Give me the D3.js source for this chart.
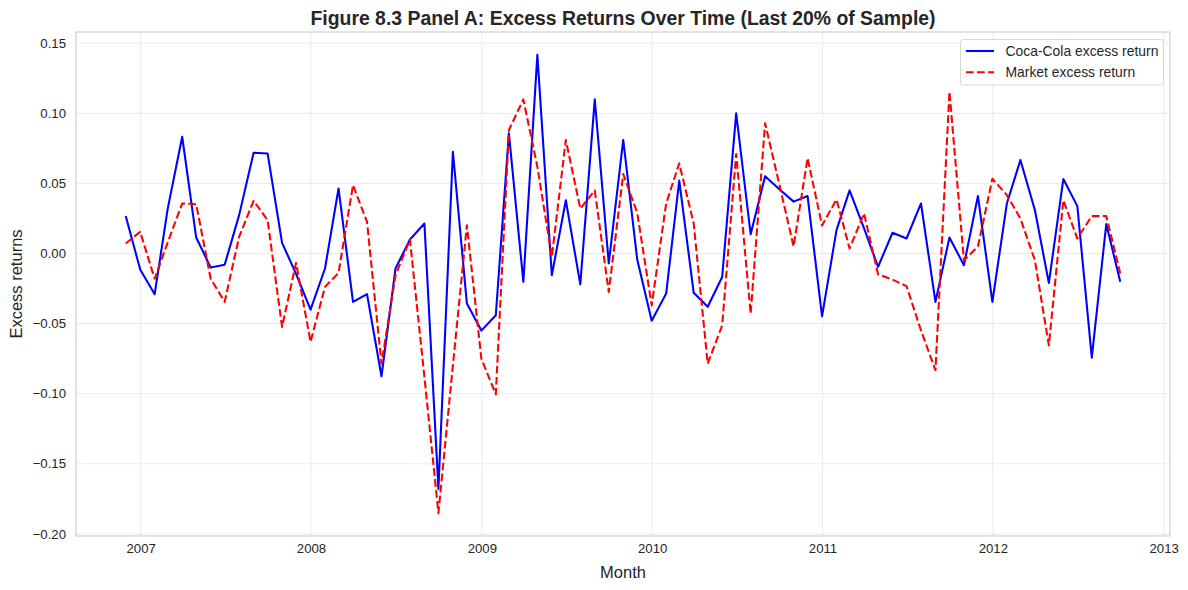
<!DOCTYPE html>
<html>
<head>
<meta charset="utf-8">
<script src="https://cdn.jsdelivr.net/npm/d3@7"></script>
<style>
  html, body { margin: 0; padding: 0; background: #fff; }
  svg { display: block; font-family: "Liberation Sans", Arial, sans-serif; }
</style>
</head>
<body>
<svg id="chart" width="1188" height="590"></svg>
<script>
// ---------- data ----------
const months = [
  "2006-11-30","2006-12-31",
  "2007-01-31","2007-02-28","2007-03-31","2007-04-30","2007-05-31","2007-06-30",
  "2007-07-31","2007-08-31","2007-09-30","2007-10-31","2007-11-30","2007-12-31",
  "2008-01-31","2008-02-29","2008-03-31","2008-04-30","2008-05-31","2008-06-30",
  "2008-07-31","2008-08-31","2008-09-30","2008-10-31","2008-11-30","2008-12-31",
  "2009-01-31","2009-02-28","2009-03-31","2009-04-30","2009-05-31","2009-06-30",
  "2009-07-31","2009-08-31","2009-09-30","2009-10-31","2009-11-30","2009-12-31",
  "2010-01-31","2010-02-28","2010-03-31","2010-04-30","2010-05-31","2010-06-30",
  "2010-07-31","2010-08-31","2010-09-30","2010-10-31","2010-11-30","2010-12-31",
  "2011-01-31","2011-02-28","2011-03-31","2011-04-30","2011-05-31","2011-06-30",
  "2011-07-31","2011-08-31","2011-09-30","2011-10-31","2011-11-30","2011-12-31",
  "2012-01-31","2012-02-29","2012-03-31","2012-04-30","2012-05-31","2012-06-30",
  "2012-07-31","2012-08-31","2012-09-30"
];

const cocaColaExcess = [
  0.0267, -0.0114,
  -0.029, 0.032, 0.0833, 0.0114, -0.010, -0.008, 0.0274, 0.0719, 0.0714, 0.0076, -0.0145, -0.040,
  -0.0107, 0.0464, -0.0345, -0.029, -0.0876, -0.0107, 0.010, 0.0214, -0.1679, 0.0726, -0.0357, -0.055,
  -0.044, 0.0857, -0.0202, 0.1417, -0.0155, 0.038, -0.022, 0.110, -0.007, 0.081, -0.0043, -0.048,
  -0.0286, 0.052, -0.028, -0.038, -0.0167, 0.100, 0.0138, 0.0552, 0.046, 0.037, 0.041, -0.0448,
  0.0167, 0.045, 0.018, -0.0095, 0.0148, 0.0107, 0.0357, -0.0345, 0.0114, -0.0083, 0.041, -0.0345,
  0.0357, 0.0667, 0.031, -0.021, 0.0531, 0.0338, -0.0743, 0.021, -0.0202
];

const marketExcess = [
  0.0071, 0.0155,
  -0.018, 0.008, 0.0357, 0.0352, -0.018, -0.0345, 0.0119, 0.0376, 0.0238, -0.0524, -0.0067, -0.063,
  -0.0238, -0.0138, 0.0488, 0.0226, -0.0786, -0.0155, 0.010, -0.088, -0.1852, -0.080, 0.0202, -0.075,
  -0.1005, 0.088, 0.110, 0.062, -0.0024, 0.081, 0.032, 0.045, -0.0274, 0.0567, 0.029, -0.037,
  0.0357, 0.0643, 0.0214, -0.0786, -0.0512, 0.071, -0.0429, 0.0929, 0.050, 0.005, 0.068, 0.020,
  0.0386, 0.0036, 0.0286, -0.0148, -0.0186, -0.0233, -0.0548, -0.0833, 0.1155, -0.0048, 0.005, 0.0533,
  0.0417, 0.025, -0.0048, -0.0655, 0.038, 0.0107, 0.0267, 0.0267, -0.0143
];

const yTicks = [-0.20, -0.15, -0.10, -0.05, 0.00, 0.05, 0.10, 0.15];
const xTickYears = ["2007", "2008", "2009", "2010", "2011", "2012", "2013"];

const seriesNames = ["Coca-Cola excess return", "Market excess return"];
const titleText = "Figure 8.3 Panel A: Excess Returns Over Time (Last 20% of Sample)";
const xLabelText = "Month";
const yLabelText = "Excess returns";

// ---------- layout ----------
const W = 1188, H = 590;
const plot = { left: 76, right: 1170, top: 32, bottom: 536 };
const textColor = "#262626";
const FONT = '"Liberation Sans", Arial, sans-serif';

const parse = d3.utcParse("%Y-%m-%d");
const dates = months.map(parse);

const data = dates.map((d, i) => ({ date: d, ko: cocaColaExcess[i], mkt: marketExcess[i] }));

// domains with matplotlib-like 5% margins
const xExt = d3.extent(dates);
const xPad = (xExt[1] - xExt[0]) * 0.05;
const allY = cocaColaExcess.concat(marketExcess);
const yExt = d3.extent(allY);
const yPad = (yExt[1] - yExt[0]) * 0.05;

const x = d3.scaleUtc()
  .domain([new Date(+xExt[0] - xPad), new Date(+xExt[1] + xPad)])
  .range([plot.left, plot.right]);
const y = d3.scaleLinear()
  .domain([yExt[0] - yPad, yExt[1] + yPad])
  .range([plot.bottom, plot.top]);

const svg = d3.select("#chart");

svg.append("rect").attr("x", 0).attr("y", 0).attr("width", W).attr("height", H).attr("fill", "#fff");

// grid
const xTickDates = xTickYears.map(s => parse(s + "-01-01"));
const grid = svg.append("g");
grid.selectAll("line.gx").data(xTickDates).join("line")
  .attr("x1", d => x(d)).attr("x2", d => x(d))
  .attr("y1", plot.top).attr("y2", plot.bottom)
  .attr("stroke", "#ebebeb").attr("stroke-width", 1);
grid.selectAll("line.gy").data(yTicks).join("line")
  .attr("x1", plot.left).attr("x2", plot.right)
  .attr("y1", d => y(d)).attr("y2", d => y(d))
  .attr("stroke", "#ebebeb").attr("stroke-width", 1);

// axes (labels only, no tick marks)
const fmtY = d3.format(".2f");
const yAxis = d3.axisLeft(y).tickValues(yTicks).tickFormat(fmtY).tickSize(0).tickPadding(10);
const xAxis = d3.axisBottom(x).tickValues(xTickDates).tickFormat(d3.utcFormat("%Y")).tickSize(0).tickPadding(8);

const gy = svg.append("g").attr("transform", `translate(${plot.left},0)`).call(yAxis);
const gx = svg.append("g").attr("transform", `translate(0,${plot.bottom})`).call(xAxis);
[gx, gy].forEach(g => {
  g.select(".domain").remove();
  g.selectAll("text").attr("fill", textColor).style("font-size", "13.2px").style("font-family", FONT);
});

// lines
svg.append("clipPath").attr("id", "clip").append("rect")
  .attr("x", plot.left).attr("y", plot.top)
  .attr("width", plot.right - plot.left).attr("height", plot.bottom - plot.top);

const lineKo = d3.line().x(d => x(d.date)).y(d => y(d.ko));
const lineMkt = d3.line().x(d => x(d.date)).y(d => y(d.mkt));

const lines = svg.append("g").attr("clip-path", "url(#clip)");
lines.append("path").datum(data).attr("d", lineKo)
  .attr("fill", "none").attr("stroke", "#0000ff").attr("stroke-width", 2.08)
  .attr("stroke-linejoin", "round").attr("stroke-linecap", "butt");
lines.append("path").datum(data).attr("d", lineMkt)
  .attr("fill", "none").attr("stroke", "#ff0000").attr("stroke-width", 2.08)
  .attr("stroke-dasharray", "7.7,3.3")
  .attr("stroke-linejoin", "round").attr("stroke-linecap", "butt");

// frame
svg.append("rect")
  .attr("x", plot.left).attr("y", plot.top)
  .attr("width", plot.right - plot.left).attr("height", plot.bottom - plot.top)
  .attr("fill", "none").attr("stroke", "#cccccc").attr("stroke-width", 1.1);

// title
svg.append("text")
  .attr("x", (plot.left + plot.right) / 2).attr("y", 25)
  .attr("text-anchor", "middle")
  .attr("fill", textColor)
  .style("font-size", "19.4px").style("font-weight", "bold")
  .text(titleText);

// axis labels
svg.append("text")
  .attr("x", (plot.left + plot.right) / 2).attr("y", 578)
  .attr("text-anchor", "middle").attr("fill", textColor)
  .style("font-size", "16.5px")
  .text(xLabelText);
svg.append("text")
  .attr("transform", `translate(22,${(plot.top + plot.bottom) / 2}) rotate(-90)`)
  .attr("text-anchor", "middle").attr("fill", textColor)
  .style("font-size", "16.5px")
  .text(yLabelText);

// legend
const lg = svg.append("g");
lg.append("rect")
  .attr("x", 960.5).attr("y", 39.5).attr("width", 203).attr("height", 45.5)
  .attr("rx", 3).attr("ry", 3)
  .attr("fill", "#ffffff").attr("fill-opacity", 0.8)
  .attr("stroke", "#d6d6d6").attr("stroke-width", 1);
const legendItems = [
  { name: seriesNames[0], color: "#0000ff", dash: null },
  { name: seriesNames[1], color: "#ff0000", dash: "7.7,3.3" }
];
legendItems.forEach((it, i) => {
  const yy = 51 + i * 21.3;
  lg.append("line")
    .attr("x1", 966).attr("x2", 994).attr("y1", yy).attr("y2", yy)
    .attr("stroke", it.color).attr("stroke-width", 2.08)
    .attr("stroke-dasharray", it.dash);
  lg.append("text")
    .attr("x", 1005.5).attr("y", yy).attr("dy", "0.35em")
    .attr("fill", textColor).style("font-size", "13.9px")
    .text(it.name);
});
</script>
</body>
</html>
